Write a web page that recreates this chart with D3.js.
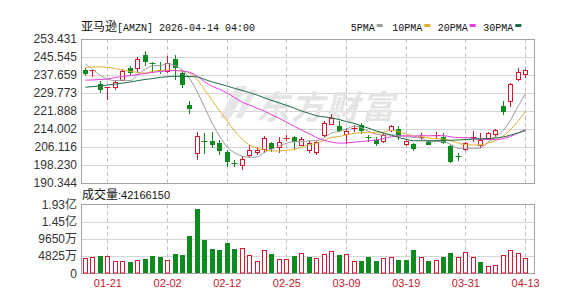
<!DOCTYPE html>
<html><head><meta charset="utf-8">
<script src="https://cdn.jsdelivr.net/npm/d3@7/dist/d3.min.js"></script>
<style>
body{margin:0;background:#fff;}
svg{display:block;}
</style></head><body>
<svg id="c" width="588" height="308"></svg>
<script>
const dates = ["01-15","01-16","01-20","01-21","01-22","01-23","01-26","01-27","01-28","01-29","01-30",
"02-02","02-03","02-04","02-05","02-06","02-09","02-10","02-11","02-12","02-13","02-17","02-18","02-19","02-20","02-23","02-24","02-25","02-26","02-27",
"03-02","03-03","03-04","03-05","03-06","03-09","03-10","03-11","03-12","03-13","03-16","03-17","03-18","03-19","03-20","03-23","03-24","03-25","03-26","03-27","03-30","03-31",
"04-01","04-02","04-06","04-07","04-08","04-09","04-10","04-13"];
const openP  = [239.7,239.4,233.7,232.0,232.0,235.2,240.7,240.3,246.3,243.0,239.7,238.8,244.8,238.5,224.6,203.0,208.6,208.9,207.9,203.8,198.9,197.9,202.0,203.5,204.9,207.7,205.7,209.8,210.4,206.7,204.5,203.5,210.8,215.9,215.2,211.2,214.1,215.6,210.6,209.3,208.3,213.0,214.1,206.9,207.4,210.1,208.3,210.9,210.4,206.4,202.1,204.9,210.1,206.6,209.7,211.5,223.9,225.8,235.6,237.8];
const highP  = [240.7,240.0,234.9,232.4,235.6,240.4,241.5,245.4,248.0,243.4,243.4,245.8,246.6,240.0,226.4,212.5,212.2,212.7,209.3,204.9,200.5,202.0,206.9,206.0,210.8,208.3,210.4,211.2,211.1,210.4,208.9,208.9,217.4,220.6,217.4,214.4,215.6,216.6,211.5,210.4,212.2,215.6,215.2,209.3,207.9,212.2,209.3,212.7,212.2,206.9,203.5,208.3,213.3,212.2,212.7,214.1,226.4,234.2,240.7,240.4];
const lowP   = [237.3,236.6,229.8,226.8,231.2,234.9,237.8,238.5,241.5,238.5,238.1,238.5,235.6,232.0,220.6,200.5,203.0,205.7,202.4,197.2,197.2,195.9,201.3,202.8,203.5,203.9,203.5,208.6,204.9,206.4,203.5,202.4,210.4,215.6,212.7,207.4,212.7,212.0,208.3,206.4,207.9,212.7,209.3,206.4,204.5,209.3,206.9,209.7,207.4,199.1,200.1,204.2,208.3,205.7,209.3,210.4,220.0,223.5,235.2,236.3];
const closeP = [238.2,239.7,231.2,232.3,234.6,239.3,238.5,244.8,243.4,242.6,239.4,242.9,240.7,233.4,222.8,211.0,208.2,207.1,204.3,199.5,198.6,201.0,204.7,204.9,210.1,205.4,208.3,210.1,208.3,209.7,208.0,208.3,216.6,218.8,213.1,213.3,214.4,213.0,210.3,207.6,211.5,215.2,210.8,208.6,205.4,210.4,207.1,211.2,207.9,199.5,201.8,207.9,210.4,209.1,212.2,213.7,221.5,233.7,238.8,239.9];
const volume = [43.8e6,45.7e6,48.5e6,48.5e6,34.5e6,35.4e6,31.7e6,37.3e6,41.0e6,48.5e6,45.7e6,37.3e6,54.1e6,51.3e6,104.4e6,179.0e6,93.3e6,68.1e6,65.3e6,85.8e6,68.1e6,70.9e6,51.3e6,34.5e6,65.3e6,54.1e6,40.1e6,40.1e6,48.5e6,55.9e6,
45.7e6,42.9e6,54.1e6,62.5e6,51.3e6,54.1e6,34.5e6,34.5e6,45.7e6,34.5e6,42.9e6,45.7e6,37.3e6,37.3e6,65.3e6,45.7e6,34.5e6,37.3e6,45.7e6,56.8e6,45.7e6,59.6e6,45.7e6,31.7e6,20.5e6,23.3e6,51.3e6,65.3e6,56.8e6,42166150];
const firstVolUp = true;
// moving-average values read from the chart where the window is not yet full
const ma5Head  = [242.5,240.0,237.5,235.8];
const ma20Head = [235.4,235.5,235.7,235.9,236.6,237.0,237.4,237.9,238.3,238.8,239.2,239.5,239.6,239.4,238.8,237.1,234.6,232.7,231.3];
const ma30Head = [232.3,232.6,232.9,233.3,233.7,234.1,234.6,235.2,235.7,236.1,236.6,236.9,237.1,237.1,237.0,236.8,235.7,234.6,233.7,232.8,231.8,230.9,229.9,228.9,227.6,226.5,225.4,224.3,223.1];
// 10PMA line
const ma10Read = [240.9,241.2,241.2,241.0,240.5,239.9,239.2,238.8,238.5,239.3,
239.6,239.8,239.7,239.4,238.5,235.5,231.1,226.3,221.9,217.5,
213.1,209.6,207.0,205.5,204.8,204.4,204.4,204.7,205.1,206.1,
207.1,207.8,209.0,210.4,210.7,211.5,212.1,212.4,212.6,212.3,
212.7,213.4,212.8,211.8,211.0,210.7,210.0,209.8,209.6,208.8,
207.8,207.1,207.0,207.0,207.9,209.0,211.0,213.8,217.5,221.8];
const priceTicks = [253.431,245.545,237.659,229.773,221.888,214.002,206.116,198.230,190.344];
const priceTickLabels = ["253.431","245.545","237.659","229.773","221.888","214.002","206.116","198.230","190.344"];
const volTicks = [0,48250000,96500000,144750000,193000000];
const volTickLabels = ["0","4825万","9650万","1.45亿","1.93亿"];
const dateTicks = ["01-21","02-02","02-12","02-25","03-09","03-19","03-31","04-13"];
const maNames = ["5PMA","10PMA","20PMA","30PMA"];
const maColors = ["#9c9c9c","#e0b030","#e83ce0","#1d6b43"];

const RED = "#d8162f", GREEN = "#0f8a1e";
const L = 81, R = 534.5, PT = 39, PB = 183, VT = 204.3, VB = 273.3;
const svg = d3.select("#c");
const x = d3.scaleBand().domain(dates).range([81.8, 529.3]);
const cx = d => Math.floor(x(d) + x.bandwidth() / 2) + 0.5;
const y = d3.scaleLinear().domain([190.344, 253.431]).range([PB, PT]);
const yv = d3.scaleLinear().domain([0, 193000000]).range([VB, VT]);
const crisp = v => Math.round(v) + 0.5;

// grids
const g = svg.append("g");
g.selectAll(".hg").data(priceTicks.slice(1, -1)).enter().append("line")
  .attr("x1", L).attr("x2", R).attr("y1", d => crisp(y(d))).attr("y2", d => crisp(y(d)))
  .attr("stroke", "#d6d6d6");
g.selectAll(".vg").data(volTicks.slice(1, -1)).enter().append("line")
  .attr("x1", L).attr("x2", R).attr("y1", d => crisp(yv(d))).attr("y2", d => crisp(yv(d)))
  .attr("stroke", "#d6d6d6");
[[PT, PB], [VT, VB]].forEach(([a, b]) => {
  g.selectAll(null).data(dateTicks).enter().append("line")
    .attr("x1", d => cx(d)).attr("x2", d => cx(d)).attr("y1", a).attr("y2", b)
    .attr("stroke", "#c4c4c4").attr("stroke-dasharray", "4,3");
});
// watermark
svg.append("text").attr("x", 256).attr("y", 119).text("东方财富")
  .attr("font-family", "Noto Sans CJK SC").attr("font-size", 33).attr("font-weight", "bold")
  .attr("font-style", "italic").attr("fill", "#e4e4e4").attr("letter-spacing", 2);
svg.append("path").attr("d", "M220,118 L236,86 L247,86 L231,118 Z M235,118 L250,90 L257,90 L242,118 Z")
  .attr("fill", "#e6e6e6");

// frames
svg.append("rect").attr("x", L + 0.5).attr("y", PT + 0.5).attr("width", R - L - 0.5).attr("height", PB - PT)
  .attr("fill", "none").attr("stroke", "#a3a3a3");
svg.append("rect").attr("x", L + 0.5).attr("y", crisp(VT)).attr("width", R - L - 0.5).attr("height", Math.round(VB) - Math.round(VT))
  .attr("fill", "none").attr("stroke", "#a3a3a3");

// candles
const data = dates.map((d, i) => ({d, o: openP[i], h: highP[i], l: lowP[i], c: closeP[i], v: volume[i],
  vUp: i === 0 ? firstVolUp : closeP[i] >= closeP[i - 1]}));
const cg = svg.append("g");
data.forEach(p => {
  const up = p.c >= p.o;
  const col = up ? RED : GREEN;
  const X = cx(p.d);
  const top = Math.round(y(Math.max(p.o, p.c))), bot = Math.round(y(Math.min(p.o, p.c)));
  cg.append("line").attr("x1", X).attr("x2", X).attr("y1", Math.round(y(p.h))).attr("y2", top).attr("stroke", col);
  cg.append("line").attr("x1", X).attr("x2", X).attr("y1", bot).attr("y2", Math.round(y(p.l))).attr("stroke", col);
  if (bot - top < 2) {
    cg.append("line").attr("x1", X - 3).attr("x2", X + 3).attr("y1", top + 0.5).attr("y2", top + 0.5).attr("stroke", col);
  } else if (up) {
    cg.append("rect").attr("x", X - 2).attr("y", top + 0.5).attr("width", 4).attr("height", bot - top - 1)
      .attr("fill", "#fff").attr("stroke", col);
  } else {
    cg.append("rect").attr("x", X - 2.5).attr("y", top).attr("width", 5).attr("height", bot - top).attr("fill", col);
  }
});

// MA lines
function ma(n, head) {
  return closeP.map((c, i) => i < n - 1 ? head[i] : d3.mean(closeP.slice(i - n + 1, i + 1)));
}
const maSeries = [ma(5, ma5Head), ma10Read, ma(20, ma20Head), ma(30, ma30Head)];
const line = d3.line().curve(d3.curveMonotoneX).x((v, i) => x(dates[i]) + x.bandwidth() / 2).y(v => y(v));
maSeries.forEach((s, k) => {
  svg.append("path").attr("d", line(s)).attr("fill", "none").attr("stroke", maColors[k]).attr("stroke-width", 1);
});

// volume bars
const vg = svg.append("g");
data.forEach(p => {
  const X = cx(p.d);
  const top = Math.round(yv(p.v)), bot = Math.round(VB);
  if (p.vUp) {
    vg.append("rect").attr("x", X - 2).attr("y", top + 0.5).attr("width", 4).attr("height", bot - top - 0.5)
      .attr("fill", "#fff").attr("stroke", RED);
  } else {
    vg.append("rect").attr("x", X - 2.5).attr("y", top).attr("width", 5).attr("height", bot - top).attr("fill", GREEN);
  }
});

// axes
const fontAx = "'Liberation Sans', Arial, 'Noto Sans CJK SC', sans-serif";
const ya = svg.append("g").attr("transform", `translate(${L},0)`)
  .call(d3.axisLeft(y).tickValues(priceTicks).tickFormat((d, i) => priceTickLabels[i]).tickSize(0).tickPadding(4));
const yva = svg.append("g").attr("transform", `translate(${L},0)`)
  .call(d3.axisLeft(yv).tickValues(volTicks).tickFormat((d, i) => volTickLabels[i]).tickSize(0).tickPadding(4));
const xa = svg.append("g").attr("transform", `translate(0,${VB})`)
  .call(d3.axisBottom(x).tickValues(dateTicks).tickSize(0).tickPadding(6));
[ya, yva, xa].forEach(a => {
  a.select(".domain").remove();
  a.selectAll("text").attr("font-family", fontAx).attr("font-size", 12).attr("fill", "#333");
});
xa.selectAll("text").attr("font-size", 11).attr("fill", "#c8182c");

// title
const t = svg.append("text").attr("x", 81).attr("y", 31).attr("fill", "#111");
t.append("tspan").attr("font-family", "Noto Sans CJK SC").attr("font-size", 12).text("亚马逊");
t.append("tspan").attr("font-family", "'Liberation Mono', monospace").attr("font-size", 10).text("[AMZN] 2026-04-14 04:00");

// legend
const legX = [350.7, 392.3, 437.7, 483.3];
maNames.forEach((n, k) => {
  svg.append("text").attr("x", legX[k]).attr("y", 30.5).attr("font-family", "'Liberation Mono', monospace")
    .attr("font-size", 10).attr("fill", "#111").text(n);
  svg.append("rect").attr("x", legX[k] + n.length * 6 + 2).attr("y", 24).attr("width", 6).attr("height", 3)
    .attr("fill", maColors[k]);
});

// volume label
const vl = svg.append("text").attr("x", 82).attr("y", 199).attr("fill", "#111");
vl.append("tspan").attr("font-family", "Noto Sans CJK SC").attr("font-size", 12).text("成交量");
vl.append("tspan").attr("font-family", fontAx).attr("font-size", 11).text(":" + volume[volume.length - 1]);
</script>
</body></html>
